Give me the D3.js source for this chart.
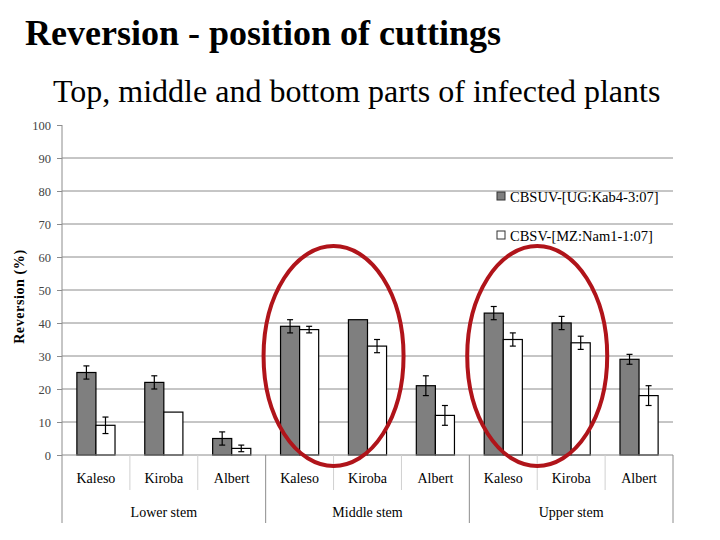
<!DOCTYPE html>
<html lang="en">
<head>
<meta charset="UTF-8">
<title>Reversion - position of cuttings</title>
<script src="https://d3js.org/d3.v7.min.js"></script>
<style>
    body { margin: 0; background: #fff; }
    text { font-family: "Liberation Serif", "Times New Roman", serif; }
</style>
</head>
<body>
<div class="container"></div>
<script>
    // data
    const groups = ["Lower stem", "Middle stem", "Upper stem"];
    const cultivars = ["Kaleso", "Kiroba", "Albert"];
    const seriesNames = ["CBSUV-[UG:Kab4-3:07]", "CBSV-[MZ:Nam1-1:07]"];
    const cbsuv = [25, 22, 5, 39, 41, 21, 43, 40, 29];
    const cbsuvErr = [2, 2, 2, 2, 0, 3, 2, 2, 1.5];
    const cbsv = [9, 13, 2, 38, 33, 12, 35, 34, 18];
    const cbsvErr = [2.5, 0, 1, 1, 2, 3, 2, 2, 3];
    const yTicks = [0, 10, 20, 30, 40, 50, 60, 70, 80, 90, 100];

    const W = 720, H = 540;
    const svg = d3.select(".container").append("svg")
        .attr("width", W).attr("height", H);

    const mLeft = 62, mRight = 673, mTop = 125, mBottom = 455;

    const cats = [];
    groups.forEach(g => cultivars.forEach(c => cats.push(g + "|" + c)));

    const x = d3.scaleBand().domain(cats).range([mLeft, mRight]);
    const inner = d3.scaleBand().domain([0, 1]).range([0, x.bandwidth()])
        .paddingOuter(0.78).paddingInner(0);
    const y = d3.scaleLinear().domain([0, 100]).range([mBottom, mTop]);

    // title
    svg.append("text").attr("x", 25).attr("y", 45)
        .attr("font-size", 36).attr("font-weight", "bold")
        .text("Reversion - position of cuttings");
    svg.append("text").attr("x", 53).attr("y", 102)
        .attr("font-size", 32)
        .text("Top, middle and bottom parts of infected plants");

    // grid
    svg.append("g").selectAll("line")
        .data(yTicks.filter(t => t > 0 && t < 100))
        .join("line")
        .attr("x1", mLeft).attr("x2", mRight)
        .attr("y1", d => y(d)).attr("y2", d => y(d))
        .attr("stroke", "#8c8c8c").attr("stroke-width", 1);

    // y axis
    const yAxis = svg.append("g")
        .attr("transform", `translate(${mLeft},0)`)
        .call(d3.axisLeft(y).tickValues(yTicks).tickSize(5).tickSizeOuter(0));
    yAxis.select(".domain").remove();
    yAxis.selectAll("line").attr("stroke", "#8c8c8c");
    yAxis.selectAll("text")
        .attr("font-family", "Liberation Serif, serif")
        .attr("font-size", 12.5).attr("fill", "#444").attr("dx", -3);
    svg.append("line").attr("x1", mLeft).attr("x2", mLeft)
        .attr("y1", mTop).attr("y2", 523).attr("stroke", "#8c8c8c");

    svg.append("text")
        .attr("transform", `translate(24,${y(48)}) rotate(-90)`)
        .attr("text-anchor", "middle")
        .attr("font-size", 14).attr("font-weight", "bold")
        .attr("letter-spacing", 0.6)
        .text("Reversion (%)");

    // bars
    const barG = svg.append("g");
    const seriesVals = [cbsuv, cbsv];
    const seriesErr = [cbsuvErr, cbsvErr];
    const fills = ["#7f7f7f", "#ffffff"];

    cats.forEach((c, i) => {
        [0, 1].forEach(s => {
            const bx = x(c) + inner(s);
            const bw = inner.bandwidth();
            const v = seriesVals[s][i];
            barG.append("rect")
                .attr("x", bx).attr("y", y(v))
                .attr("width", bw).attr("height", mBottom - y(v))
                .attr("fill", fills[s])
                .attr("stroke", "#000").attr("stroke-width", 1.2);
        });
    });

    // error bars
    cats.forEach((c, i) => {
        [0, 1].forEach(s => {
            const e = seriesErr[s][i];
            if (!e) return;
            const cx = x(c) + inner(s) + inner.bandwidth() / 2;
            const v = seriesVals[s][i];
            const g = barG.append("g").attr("stroke", "#000").attr("stroke-width", 1.2);
            g.append("line").attr("x1", cx).attr("x2", cx)
                .attr("y1", y(v + e)).attr("y2", y(v - e));
            g.append("line").attr("x1", cx - 3).attr("x2", cx + 3)
                .attr("y1", y(v + e)).attr("y2", y(v + e));
            g.append("line").attr("x1", cx - 3).attr("x2", cx + 3)
                .attr("y1", y(v - e)).attr("y2", y(v - e));
        });
    });

    // x axis
    svg.append("line").attr("x1", mLeft).attr("x2", mRight)
        .attr("y1", mBottom).attr("y2", mBottom).attr("stroke", "#8c8c8c");
    cats.forEach((c, i) => {
        if (i > 0 && i % 3 !== 0) {
            svg.append("line").attr("x1", x(c)).attr("x2", x(c))
                .attr("y1", mBottom).attr("y2", 490).attr("stroke", "#d0d0d0");
        }
        svg.append("text")
            .attr("x", x(c) + x.bandwidth() / 2).attr("y", 483)
            .attr("text-anchor", "middle").attr("font-size", 14)
            .text(c.split("|")[1]);
    });
    groups.forEach(g => {
        const x0 = x(g + "|" + cultivars[0]);
        const x1 = x(g + "|" + cultivars[2]) + x.bandwidth();
        svg.append("line").attr("x1", x1).attr("x2", x1)
            .attr("y1", mBottom).attr("y2", 523).attr("stroke", "#8c8c8c");
        svg.append("text")
            .attr("x", (x0 + x1) / 2).attr("y", 517)
            .attr("text-anchor", "middle").attr("font-size", 14)
            .text(g);
    });

    // legend
    const leg = svg.append("g").attr("transform", "translate(496,190)");
    seriesNames.forEach((n, i) => {
        const ly = i * 39;
        leg.append("rect").attr("x", 1).attr("y", ly + 2)
            .attr("width", 8).attr("height", 8)
            .attr("fill", fills[i]).attr("stroke", "#333");
        leg.append("text").attr("x", 14).attr("y", ly + 12)
            .attr("font-size", 14.5).text(n);
    });

    // red ellipses around Kaleso / Kiroba of middle and upper stem
    [groups[1], groups[2]].forEach(g => {
        const cx = x(g + "|" + cultivars[1]);
        svg.append("ellipse")
            .attr("cx", cx).attr("cy", y(30))
            .attr("rx", 70).attr("ry", 110)
            .attr("fill", "none")
            .attr("stroke", "#b0141a").attr("stroke-width", 4);
    });
</script>
</body>
</html>
